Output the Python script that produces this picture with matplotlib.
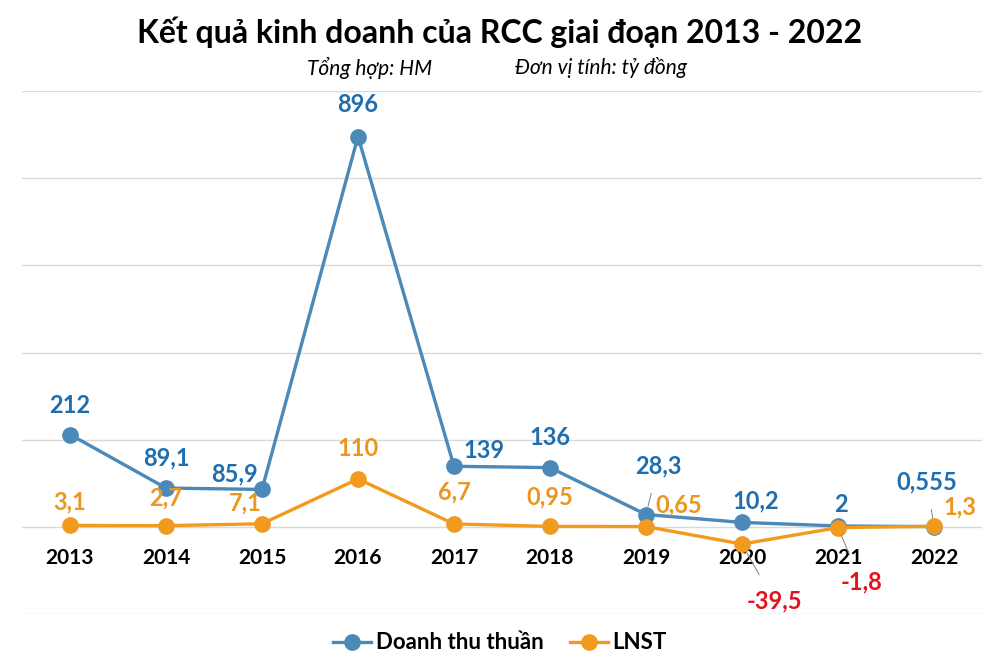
import matplotlib.pyplot as plt
import numpy as np

plt.rcParams['font.family'] = ['Lato', 'Open Sans', 'DejaVu Sans']

years = ['2013', '2014', '2015', '2016', '2017', '2018', '2019', '2020', '2021', '2022']
revenue = [212, 89.1, 85.9, 896, 139, 136, 28.3, 10.2, 2, 0.555]
profit = [3.1, 2.7, 7.1, 110, 6.7, 0.95, 0.65, -39.5, -1.8, 1.3]
revenue_labels = ['212', '89,1', '85,9', '896', '139', '136', '28,3', '10,2', '2', '0,555']
profit_labels = ['3,1', '2,7', '7,1', '110', '6,7', '0,95', '0,65', '-39,5', '-1,8', '1,3']

BLUE = '#4A89B8'
BLUE_TXT = '#1F6EB0'
ORANGE = '#F29A1E'
ORANGE_TXT = '#EB961E'
RED = '#E3131B'
GRID = '#D9D9D9'

# label offsets in pixels (dx, dy), leader flag
rev_off = [(0, 29, 0), (0, 30, 0), (-27, 16, 0), (0, 32, 0), (30, 16, 0),
           (0, 30, 0), (12, 49, 1), (14, 21, 0), (3, 21, 0), (-7, 45, 1)]
prof_off = [(0, 24, 0), (0, 28, 0), (-17, 21, 0), (0, 30, 0), (0, 32, 0),
            (0, 30, 0), (33, 22, 0), (32, -57, 1), (23, -54, 1), (26, 19, 0)]

fig = plt.figure(figsize=(10, 6.71), dpi=100)
ax = fig.add_axes([0.022, 0.085, 0.96, 0.779])
x = np.arange(len(years))

ax.set_ylim(-200, 1000)
ax.set_xlim(-0.5, len(years) - 0.5)
for yv in range(-200, 1001, 200):
    ax.axhline(yv, color=GRID, lw=1, zorder=0)

ax.plot(x, revenue, color=BLUE, lw=2.4, marker='o', ms=11, label='Doanh thu thuần', zorder=3)
ax.plot(x, profit, color=ORANGE, lw=2.4, marker='o', ms=11, label='LNST', zorder=4)

def put_labels(vals, labels, offs, color):
    for i, (v, lab, (dx, dy, lead)) in enumerate(zip(vals, labels, offs)):
        c = RED if v < 0 else color
        arrow = None
        if lead:
            arrow = dict(arrowstyle='-', color='#808080', lw=0.7, shrinkA=10, shrinkB=6)
        ax.annotate(lab, (i, v), xytext=(dx, dy), textcoords='offset pixels',
                    ha='center', va='center', fontsize=17, fontweight='bold',
                    color=c, arrowprops=arrow, zorder=5)

put_labels(revenue, revenue_labels, rev_off, BLUE_TXT)
put_labels(profit, profit_labels, prof_off, ORANGE_TXT)

# year labels just below the zero line
for i, yr in enumerate(years):
    ax.annotate(yr, (i, 0), xytext=(0, -31), textcoords='offset pixels',
                ha='center', va='center', fontsize=15, fontweight='bold', color='black')

ax.set_xticks([])
ax.set_yticks([])
for s in ax.spines.values():
    s.set_visible(False)

fig.text(0.5, 0.952, 'Kết quả kinh doanh của RCC giai đoạn 2013 - 2022', ha='center', va='center',
         fontsize=23, fontweight='bold')
fig.text(0.37, 0.899, 'Tổng hợp: HM', ha='center', va='center', fontsize=15, style='italic')
fig.text(0.601, 0.899, 'Đơn vị tính: tỷ đồng', ha='center', va='center', fontsize=15, style='italic')

fig.legend(loc='center', bbox_to_anchor=(0.5, 0.042), ncol=2, frameon=False,
           prop={'size': 16, 'weight': 'bold'}, handlelength=1.7, handletextpad=0.2,
           columnspacing=1.2)

fig.savefig('out.png', dpi=100, facecolor='white')
